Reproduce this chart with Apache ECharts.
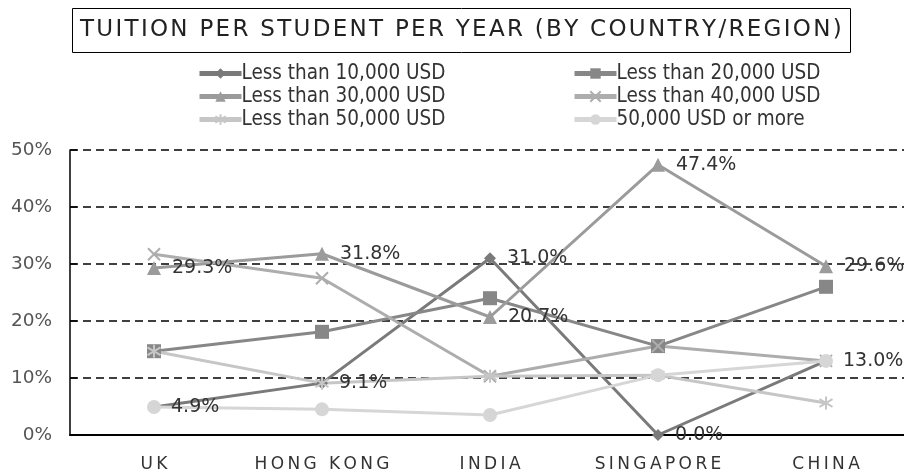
<!DOCTYPE html>
<html>
<head>
<meta charset="utf-8">
<script src="https://cdn.jsdelivr.net/npm/echarts@6/dist/echarts.min.js"></script>
<style>
  html, body { margin: 0; padding: 0; background: #fff; }
  #chart { width: 904px; height: 473px; }
</style>
</head>
<body>
<div id="chart"></div>
<script>
// 国家/地区
const categories = ['UK', 'HONG KONG', 'INDIA', 'SINGAPORE', 'CHINA']
const yTicks = [0, 10, 20, 30, 40, 50]

const less10k = [4.9, 9.1, 31.0, 0.0, 13.0]
const less20k = [14.7, 18.1, 24.0, 15.6, 26.0]
const less30k = [29.3, 31.8, 20.7, 47.4, 29.6]
const less40k = [31.7, 27.5, 10.3, 15.6, 13.0]
const less50k = [14.7, 9.1, 10.3, 10.5, 5.6]
const over50k = [4.9, 4.5, 3.5, 10.5, 13.0]

const names = [
  'Less than 10,000 USD',
  'Less than 20,000 USD',
  'Less than 30,000 USD',
  'Less than 40,000 USD',
  'Less than 50,000 USD',
  '50,000 USD or more'
]

var chart = echarts.init(document.getElementById('chart'))

function makeSeries(name, data, color, symbol, size, label) {
  return {
    name: name,
    type: 'line',
    data: data,
    symbol: symbol,
    symbolSize: size,
    lineStyle: { color: color, width: 3 },
    itemStyle: { color: color, borderColor: color, borderWidth: symbol.indexOf('path://') === 0 ? 2 : 0 },
    label: {
      show: label,
      position: 'right',
      distance: 11,
      color: '#333',
      fontFamily: 'DejaVu Sans',
      fontSize: 19,
      formatter: function (p) {
        return p.value.toFixed(1) + '%'
      }
    }
  }
}

const xPath = 'path://M0,0 L10,10 M10,0 L0,10'
const starPath = 'path://M5,0 L5,10 M0,2 L10,8 M10,2 L0,8'

const series = [
  makeSeries(names[0], less10k, '#7a7a7a', 'diamond', 12, true),
  makeSeries(names[1], less20k, '#878787', 'rect', 14, false),
  makeSeries(names[2], less30k, '#9b9b9b', 'triangle', 14, true),
  makeSeries(names[3], less40k, '#adadad', xPath, 12, false),
  makeSeries(names[4], less50k, '#c6c6c6', starPath, 13, false),
  makeSeries(names[5], over50k, '#d6d6d6', 'circle', 14, false)
]

const legendBase = {
  orient: 'vertical',
  top: 63,
  padding: 0,
  itemWidth: 42,
  itemHeight: 13,
  itemGap: 2,
  lineStyle: { width: 5 },
  textStyle: {
    color: '#333',
    fontFamily: 'DejaVu Sans Condensed',
    fontSize: 20.5,
    padding: [0, 0, 0, -5]
  }
}

var option = {
  animation: false,
  backgroundColor: '#fff',
  title: {
    text: 'TUITION PER STUDENT PER YEAR (BY COUNTRY/REGION)'.split('').join('\u200a'),
    left: 72,
    top: 8,
    borderColor: '#000',
    borderWidth: 1,
    padding: [11, 9, 11, 8],
    textStyle: {
      color: '#222',
      fontFamily: 'DejaVu Sans',
      fontWeight: 'normal',
      fontSize: 23
    }
  },
  legend: [
    Object.assign({}, legendBase, { left: 197, data: [names[0], names[2], names[4]] }),
    Object.assign({}, legendBase, { left: 572, data: [names[1], names[3], names[5]] })
  ],
  grid: {
    left: 70,
    width: 840,
    top: 150,
    bottom: 38,
    outerBoundsMode: 'none'
  },
  xAxis: {
    type: 'category',
    data: categories,
    boundaryGap: true,
    axisTick: { show: false },
    axisLine: { lineStyle: { color: '#000', width: 2 } },
    axisLabel: {
      interval: 0,
      color: '#333',
      fontFamily: 'DejaVu Sans',
      fontSize: 17,
      margin: 21,
      formatter: function (v) {
        return v.split('').join('\u2009')
      }
    }
  },
  yAxis: {
    type: 'value',
    min: yTicks[0],
    max: yTicks[yTicks.length - 1],
    interval: 10,
    axisLine: { show: true, lineStyle: { color: '#000', width: 1.5 } },
    axisTick: { show: true, inside: true, length: 7, lineStyle: { color: '#000', width: 1.5 } },
    axisLabel: {
      color: '#555',
      fontFamily: 'DejaVu Sans',
      fontSize: 18.5,
      margin: 18,
      formatter: function (v) {
        return v + '%'
      }
    },
    splitLine: {
      show: true,
      lineStyle: { color: '#000', width: 1.5, type: [8, 5] }
    }
  },
  series: series
}

chart.setOption(option)
</script>
</body>
</html>
